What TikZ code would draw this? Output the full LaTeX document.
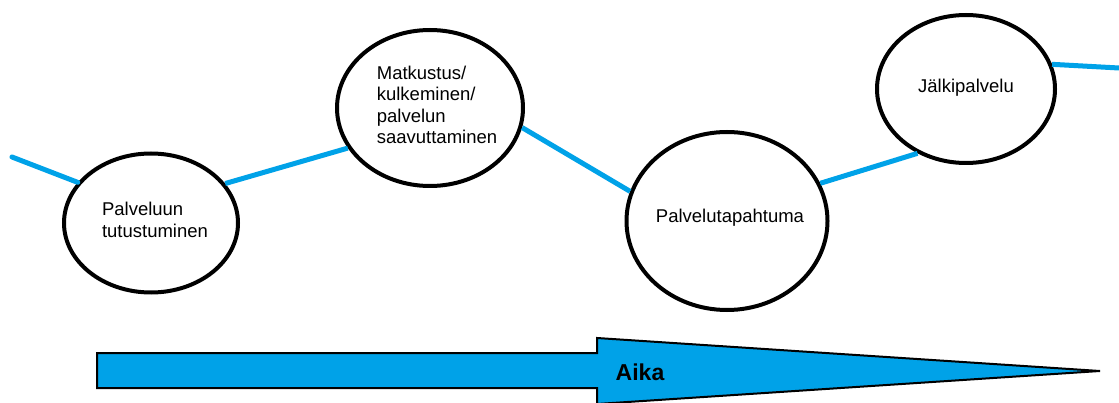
\documentclass[tikz,border=0pt]{standalone}
\usepackage{fontspec}
\setmainfont{Liberation Sans}
\usetikzlibrary{shapes.geometric}
\definecolor{pblue}{HTML}{00A2E8}
\begin{document}
\begin{tikzpicture}[x=1pt,y=-1pt,
  bub/.style={ellipse, draw=black, line width=4pt, inner sep=0pt, fill=white},
  lbl/.style={font=\fontsize{18.5}{21.5}\selectfont, align=left, inner sep=0pt, text=black},
  conn/.style={draw=pblue, line width=5pt}]
\useasboundingbox (0,0) rectangle (1119,403);

% bubbles
\node[bub, minimum width=174pt, minimum height=139pt] (e1) at (151,223) {};
\node[bub, minimum width=186pt, minimum height=156pt] (e2) at (430,108) {};
\node[bub, minimum width=201pt, minimum height=178pt] (e3) at (727,221) {};
\node[bub, minimum width=178pt, minimum height=148pt] (e4) at (966,89) {};

% labels
\node[lbl] (t1) at (155,220) {Palveluun\\tutustuminen};
\node[lbl] (t2) at (437,105) {Matkustus/\\kulkeminen/\\palvelun\\saavuttaminen};
\node[lbl] (t3) at (730,218) {Palvelutapahtuma};
\node[lbl] (t4) at (966,88) {Jälkipalvelu};

% connectors
\coordinate (s0) at (12,157);
\coordinate (s5) at (1119,68);
\draw[conn, line cap=round] (s0) -- (e1.151);
\draw[conn] (e1.28) -- (e2.206);
\draw[conn] (e2.348) -- (e3.163);
\draw[conn] (e3.22) -- (e4.233);
\draw[conn] (e4.16) -- (s5);

% time arrow
\draw[fill=pblue, draw=black, line width=2pt, line join=miter]
  (97,353) -- (597,353) -- (597,338) -- (1100,371) -- (597,404) -- (597,388) -- (97,388) -- cycle;
\node[font=\fontsize{23}{26}\selectfont\bfseries, inner sep=0pt, text=black] (aika) at (640,372) {Aika};
\end{tikzpicture}
\end{document}
